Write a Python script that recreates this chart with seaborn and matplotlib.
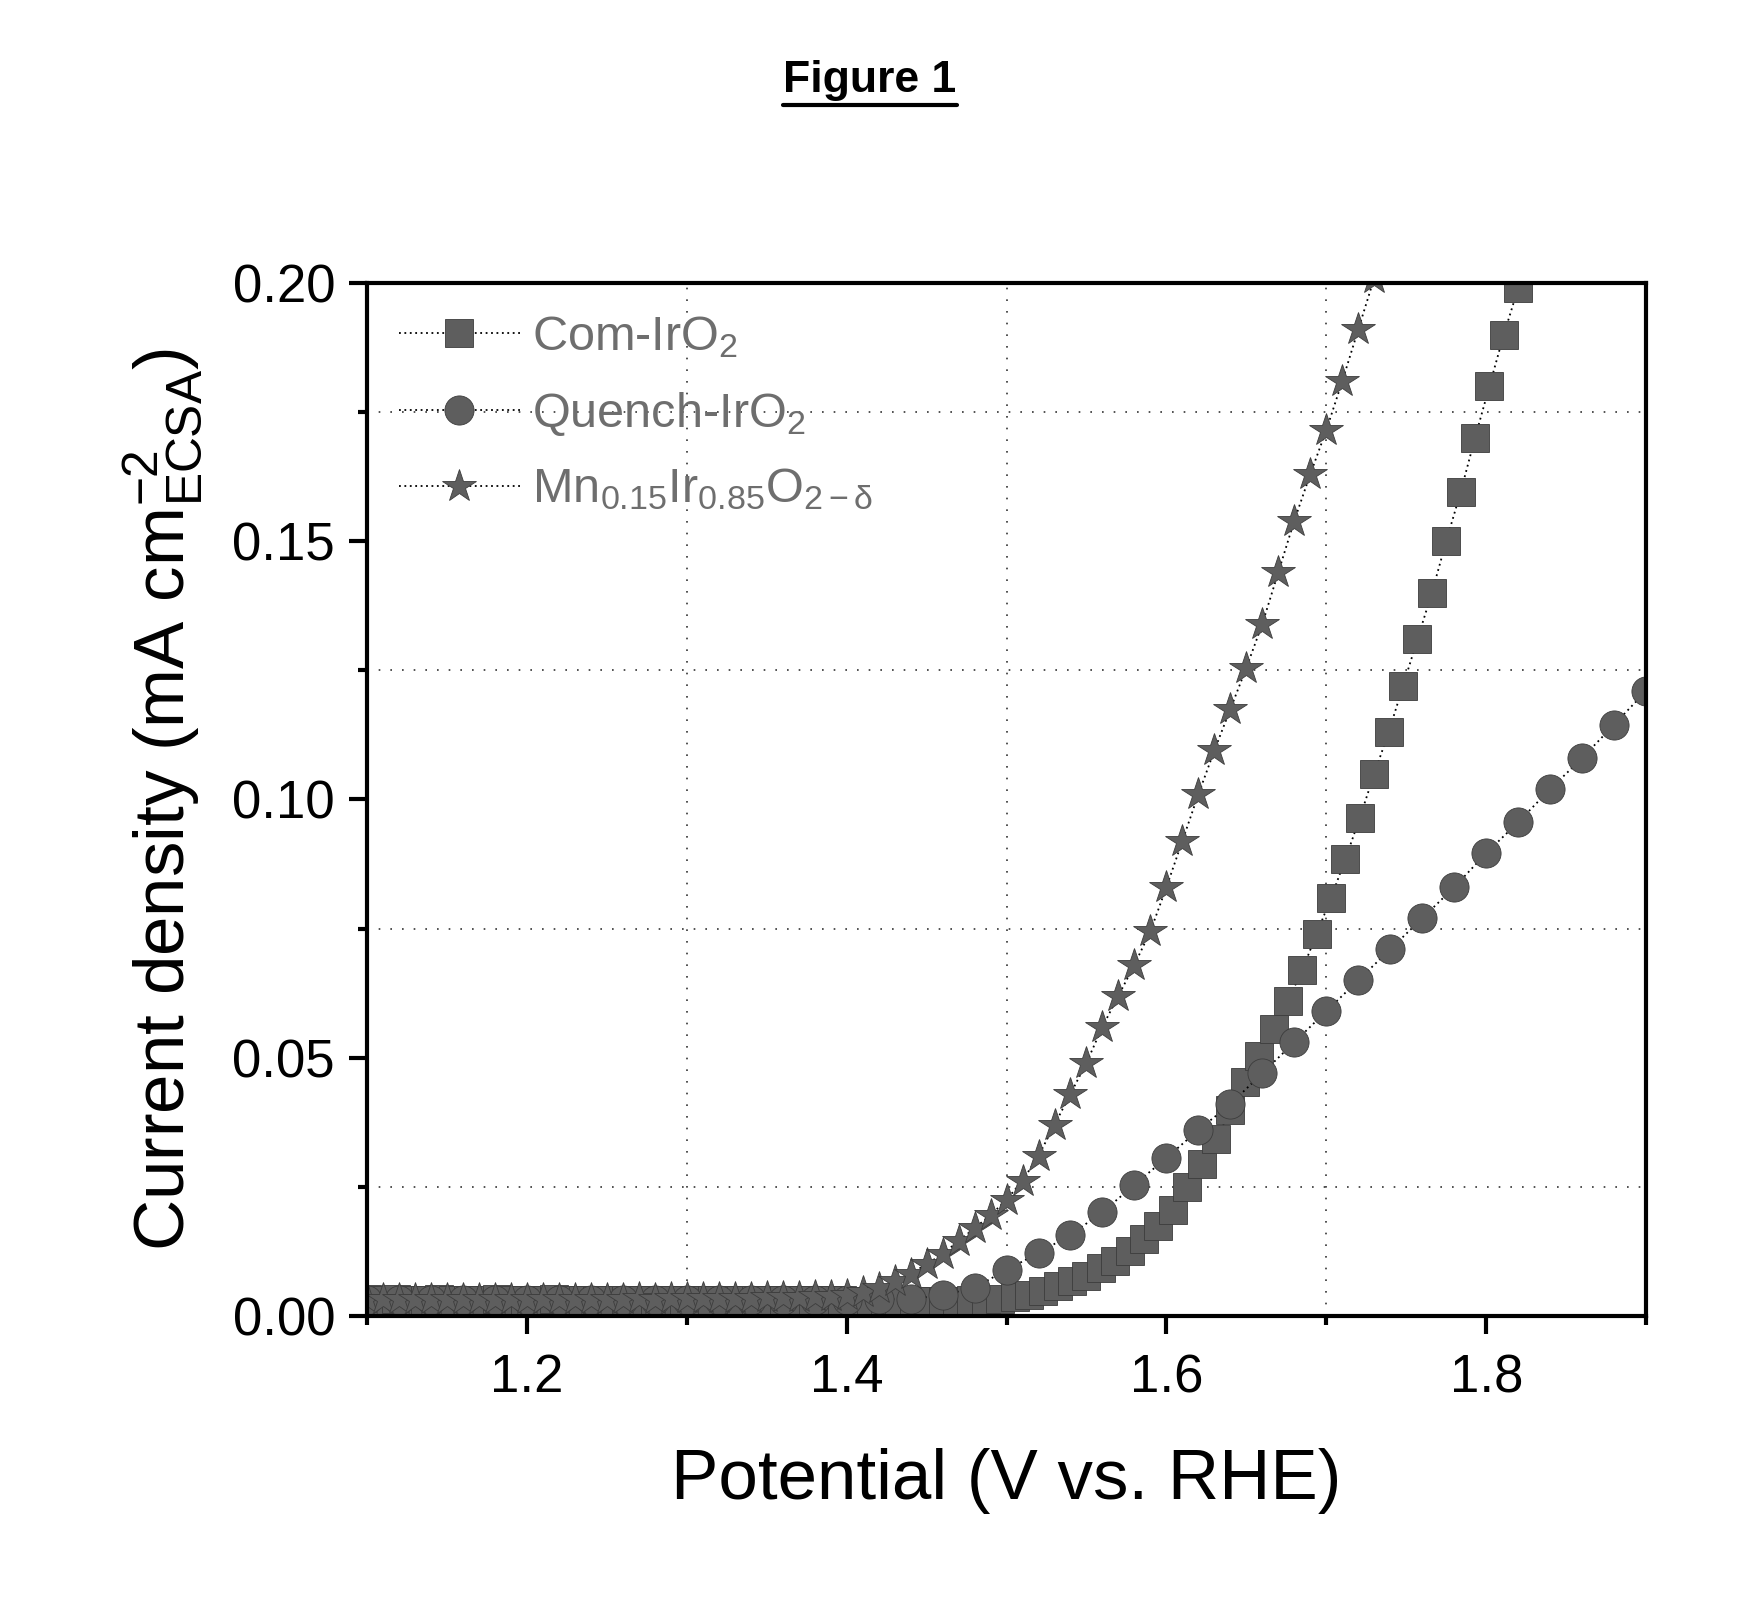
import numpy as np
import pandas as pd
import seaborn as sns
import matplotlib.pyplot as plt
from matplotlib.ticker import MultipleLocator
from matplotlib.lines import Line2D

# ---- data ----
# Com-IrO2 (squares)
v_com = [1.100, 1.109, 1.118, 1.127, 1.136, 1.145, 1.154, 1.163, 1.172, 1.181,
         1.190, 1.199, 1.208, 1.217, 1.226, 1.235, 1.244, 1.253, 1.262, 1.271,
         1.280, 1.289, 1.298, 1.307, 1.316, 1.325, 1.334, 1.343, 1.352, 1.361,
         1.370, 1.379, 1.388, 1.397, 1.406, 1.415, 1.424, 1.433, 1.442, 1.451,
         1.460, 1.469, 1.478, 1.487, 1.496, 1.505, 1.514, 1.523, 1.532, 1.541,
         1.550, 1.559, 1.568, 1.577, 1.586, 1.595, 1.604, 1.613, 1.622, 1.631,
         1.640, 1.649, 1.658, 1.667, 1.676, 1.685, 1.694, 1.703, 1.712, 1.721,
         1.730, 1.739, 1.748, 1.757, 1.766, 1.775, 1.784, 1.793, 1.802, 1.811,
         1.820]
j_com = [0.0032, 0.0031, 0.0032, 0.0030, 0.0031, 0.0032, 0.0031, 0.0030, 0.0031, 0.0032,
         0.0031, 0.0030, 0.0031, 0.0032, 0.0031, 0.0030, 0.0031, 0.0031, 0.0030, 0.0031,
         0.0030, 0.0031, 0.0030, 0.0030, 0.0031, 0.0030, 0.0030, 0.0031, 0.0030, 0.0030,
         0.0030, 0.0030, 0.0030, 0.0030, 0.0029, 0.0029, 0.0029, 0.0029, 0.0029, 0.0029,
         0.0029, 0.0029, 0.0030, 0.0031, 0.0033, 0.0036, 0.0041, 0.0048, 0.0057, 0.0067,
         0.0078, 0.0092, 0.0106, 0.0125, 0.0148, 0.0175, 0.0205, 0.0250, 0.0295, 0.0342,
         0.0398, 0.0452, 0.0503, 0.0555, 0.0610, 0.0670, 0.0740, 0.0810, 0.0885, 0.0965,
         0.1050, 0.1130, 0.1220, 0.1310, 0.1400, 0.1500, 0.1595, 0.1700, 0.1800, 0.1900,
         0.1990]

# Quench-IrO2 (circles)
v_quench = [1.10, 1.12, 1.14, 1.16, 1.18, 1.20, 1.22, 1.24, 1.26, 1.28,
            1.30, 1.32, 1.34, 1.36, 1.38, 1.40, 1.42, 1.44, 1.46, 1.48,
            1.50, 1.52, 1.54, 1.56, 1.58, 1.60, 1.62, 1.64, 1.66, 1.68,
            1.70, 1.72, 1.74, 1.76, 1.78, 1.80, 1.82, 1.84, 1.86, 1.88,
            1.90]
j_quench = [0.0030, 0.0031, 0.0030, 0.0031, 0.0030, 0.0030, 0.0031, 0.0030, 0.0030, 0.0030,
            0.0030, 0.0030, 0.0030, 0.0030, 0.0030, 0.0031, 0.0032, 0.0033, 0.0040, 0.0055,
            0.0089, 0.0122, 0.0157, 0.0201, 0.0254, 0.0306, 0.0360, 0.0410, 0.0470, 0.0530,
            0.0590, 0.0650, 0.0710, 0.0770, 0.0830, 0.0896, 0.0956, 0.1020, 0.1080, 0.1145,
            0.1210]

# Mn0.15Ir0.85O2-d (stars)
v_mn = [1.10, 1.11, 1.12, 1.13, 1.14, 1.15, 1.16, 1.17, 1.18, 1.19,
        1.20, 1.21, 1.22, 1.23, 1.24, 1.25, 1.26, 1.27, 1.28, 1.29,
        1.30, 1.31, 1.32, 1.33, 1.34, 1.35, 1.36, 1.37, 1.38, 1.39,
        1.40, 1.41, 1.42, 1.43, 1.44, 1.45, 1.46, 1.47, 1.48, 1.49,
        1.50, 1.51, 1.52, 1.53, 1.54, 1.55, 1.56, 1.57, 1.58, 1.59,
        1.60, 1.61, 1.62, 1.63, 1.64, 1.65, 1.66, 1.67, 1.68, 1.69,
        1.70, 1.71, 1.72, 1.73]
j_mn = [0.0033, 0.0032, 0.0033, 0.0032, 0.0033, 0.0032, 0.0033, 0.0032, 0.0033, 0.0033,
        0.0032, 0.0033, 0.0033, 0.0032, 0.0033, 0.0033, 0.0033, 0.0034, 0.0033, 0.0034,
        0.0034, 0.0034, 0.0035, 0.0035, 0.0035, 0.0036, 0.0036, 0.0037, 0.0038, 0.0039,
        0.0041, 0.0046, 0.0055, 0.0067, 0.0082, 0.0100, 0.0120, 0.0145, 0.0170, 0.0195,
        0.0225, 0.0262, 0.0310, 0.0370, 0.0430, 0.0490, 0.0560, 0.0620, 0.0680, 0.0745,
        0.0830, 0.0920, 0.1010, 0.1095, 0.1175, 0.1255, 0.1340, 0.1440, 0.1540, 0.1630,
        0.1715, 0.1810, 0.1910, 0.2010]

labels = ['Com-IrO$_2$', 'Quench-IrO$_2$', 'Mn$_{0.15}$Ir$_{0.85}$O$_{2-\\delta}$']
markers = ['s', 'o', '*']
msizes = [20, 21, 25]

df = pd.concat([
    pd.DataFrame({'V': v_com, 'J': j_com, 'sample': labels[0]}),
    pd.DataFrame({'V': v_quench, 'J': j_quench, 'sample': labels[1]}),
    pd.DataFrame({'V': v_mn, 'J': j_mn, 'sample': labels[2]}),
])

sns.set_style('white')
plt.rcParams['font.family'] = ['Liberation Sans', 'DejaVu Sans']
plt.rcParams['mathtext.fontset'] = 'custom'
plt.rcParams['mathtext.rm'] = 'Liberation Sans'
plt.rcParams['mathtext.it'] = 'Liberation Sans:italic'
plt.rcParams['mathtext.default'] = 'regular'
plt.rcParams['text.color'] = 'black'
plt.rcParams['axes.labelcolor'] = 'black'
plt.rcParams['xtick.color'] = 'black'
plt.rcParams['ytick.color'] = 'black'

fig = plt.figure(figsize=(17.56, 16.19), dpi=100)
ax = fig.add_axes([0.209, 0.1872, 0.7284, 0.638])

fill = '#5e5e5e'
for lab, mk, ms in zip(labels, markers, msizes):
    sub = df[df['sample'] == lab]
    sns.lineplot(data=sub, x='V', y='J', ax=ax, label=lab, sort=False,
                 estimator=None, color='black', linestyle=(0, (1, 2)), linewidth=1.3,
                 marker=mk, markersize=ms, markerfacecolor=fill,
                 markeredgecolor='#3c3c3c', markeredgewidth=0.6)

ax.set_xlim(1.1, 1.9)
ax.set_ylim(0.0, 0.2)
ax.xaxis.set_minor_locator(MultipleLocator(0.1))
ax.yaxis.set_minor_locator(MultipleLocator(0.025))
ax.set_xticks([1.2, 1.4, 1.6, 1.8])
ax.set_xticklabels(['1.2', '1.4', '1.6', '1.8'])
ax.set_yticks([0.0, 0.05, 0.10, 0.15, 0.20])
ax.set_yticklabels(['0.00', '0.05', '0.10', '0.15', '0.20'])

ax.grid(False)
ax.grid(which='minor', linestyle=(0, (1, 6)), color='#333333', linewidth=1.2)
ax.set_axisbelow(True)

for sp in ax.spines.values():
    sp.set_linewidth(3)
    sp.set_color('black')

ax.tick_params(which='major', direction='out', length=13, width=3,
               labelsize=38, pad=10, bottom=True, left=True, top=False, right=False)
ax.tick_params(which='minor', direction='out', length=6.5, width=3,
               bottom=True, left=True, top=False, right=False)
ax.tick_params(axis='x', which='major', pad=14)

ax.set_xlabel('Potential (V vs. RHE)', fontsize=51, labelpad=32)
ax.set_ylabel('Current density (mA cm$^{-2}_{ECSA}$)', fontsize=51, labelpad=20)

leg = ax.legend(loc='upper left', frameon=False, fontsize=35, handlelength=2.5,
                handletextpad=0.25, labelspacing=0.6, borderaxespad=0.25,
                labelcolor='#6e6e6e')

t = fig.text(0.4955, 0.95, 'Figure 1', ha='center', va='center',
             fontsize=32, fontweight='bold', color='black')
fig.canvas.draw()
bb = t.get_window_extent()
W, H = fig.bbox.width, fig.bbox.height
uy = (bb.y0 - 4) / H
fig.add_artist(Line2D([bb.x0 / W, bb.x1 / W], [uy, uy], color='black', linewidth=3))

fig.savefig('out.png', dpi=100)
